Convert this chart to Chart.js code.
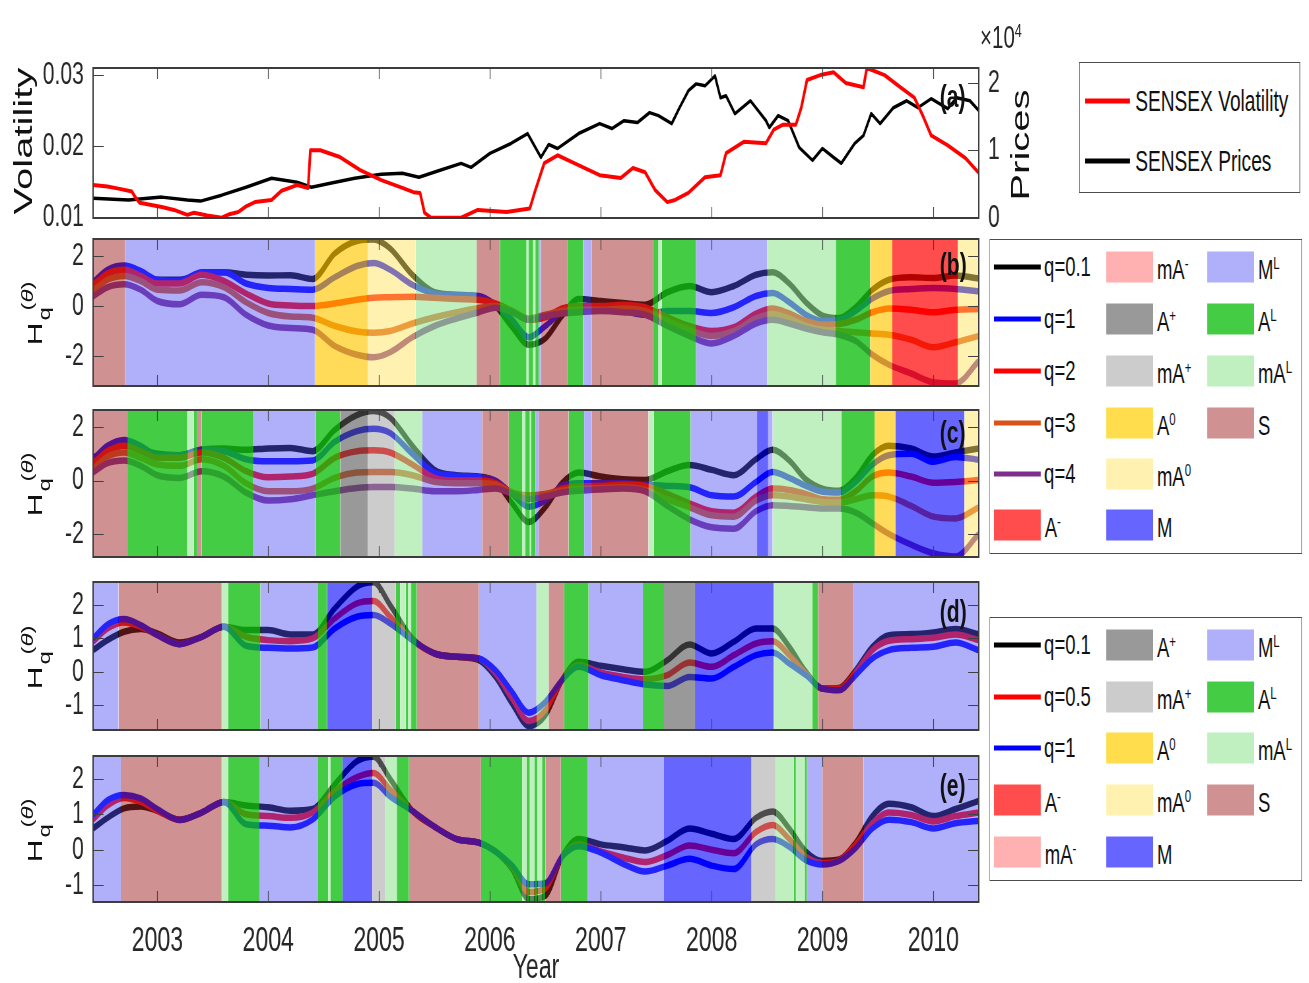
<!DOCTYPE html>
<html>
<head>
<meta charset="utf-8">
<title>SENSEX volatility and generalized Hurst exponents</title>
<script src="https://cdn.jsdelivr.net/npm/chart.js@4.4.1/dist/chart.umd.min.js"></script>
<style>
html,body{margin:0;padding:0;background:#ffffff;width:1309px;height:983px;overflow:hidden;}
#stage{position:absolute;left:0;top:0;width:1984px;height:983px;transform:scaleX(0.66);transform-origin:0 0;font-family:'Liberation Sans',Arial,Helvetica,sans-serif;color:#262626;}
#stage canvas{position:absolute;left:0;}
.t{position:absolute;white-space:nowrap;line-height:1;}
.rot{transform:translate(-50%,-50%) rotate(-90deg);}
.lg{position:absolute;border:1.5px solid #4d4d4d;background:#fff;box-sizing:border-box;}
.ls{position:absolute;height:5px;transform:translateY(-50%);}
.sw{position:absolute;height:31px;transform:translateY(-50%);}
.lt{position:absolute;white-space:nowrap;line-height:1;transform:translateY(-50%);font-size:28px;color:#111;}
.lt sup,.t sup{font-size:0.62em;vertical-align:0.55em;line-height:0;}
.pl{position:absolute;font-weight:bold;font-size:32px;line-height:1;transform:translateY(-50%);color:#111;}
.hl{font-size:32px;color:#111;}
.hl .ss{display:inline-block;position:relative;width:44px;height:32px;}
.hl .ss span{position:absolute;font-size:24px;line-height:1;white-space:nowrap;}
.hl .ss .sp{left:12px;top:-1px;}
.hl .ss .sb{left:2px;top:25px;}
</style>
</head>
<body>
<div id="stage">
</div>
<script>
// ---------------- data ----------------
const xTickYears = [2003, 2004, 2005, 2006, 2007, 2008, 2009, 2010];
const xMin = 2002.42, xMax = 2010.41;

const volTicks = [0.01, 0.02, 0.03];
const priceTicks = [0, 10000, 20000];
const hTicksBC = [-2, 0, 2];
const hTicksDE = [-1, 0, 1, 2];

const volYears = [2002.42,2002.55,2002.65,2002.77,2002.80,2002.84,2003.04,2003.15,2003.27,2003.33,2003.45,2003.58,2003.65,2003.73,2003.80,2003.88,2004.03,2004.12,2004.26,2004.36,2004.38,2004.47,2004.64,2004.83,2005.02,2005.21,2005.31,2005.37,2005.41,2005.47,2005.74,2005.89,2006.15,2006.36,2006.41,2006.49,2006.61,2006.76,2006.99,2007.18,2007.29,2007.40,2007.49,2007.60,2007.67,2007.79,2007.94,2008.08,2008.13,2008.29,2008.49,2008.56,2008.64,2008.76,2008.81,2008.86,2008.98,2009.10,2009.21,2009.37,2009.40,2009.56,2009.71,2009.83,2009.91,2009.98,2010.13,2010.29,2010.41];
const volValues = [0.0145,0.0143,0.0140,0.0136,0.0128,0.0120,0.0114,0.0110,0.0103,0.0106,0.0102,0.0099,0.0104,0.0107,0.0115,0.0121,0.0124,0.0137,0.0145,0.0141,0.0194,0.0194,0.0185,0.0166,0.0152,0.0141,0.0135,0.0134,0.0106,0.0099,0.0099,0.0110,0.0107,0.0112,0.0138,0.0176,0.0187,0.0176,0.0159,0.0155,0.0169,0.0163,0.0138,0.0121,0.0124,0.0134,0.0156,0.0159,0.0190,0.0206,0.0204,0.0223,0.0230,0.0230,0.0255,0.0293,0.0300,0.0304,0.0289,0.0283,0.0310,0.0300,0.0282,0.0268,0.0241,0.0215,0.0201,0.0183,0.0162];

const priceYears = [2002.42,2002.74,2003.04,2003.27,2003.39,2003.58,2003.80,2004.03,2004.26,2004.39,2004.56,2004.78,2005.02,2005.21,2005.36,2005.55,2005.74,2005.83,2006.00,2006.19,2006.34,2006.46,2006.53,2006.61,2006.80,2006.99,2007.10,2007.21,2007.33,2007.44,2007.52,2007.64,2007.71,2007.79,2007.86,2007.94,2008.03,2008.08,2008.13,2008.21,2008.35,2008.49,2008.52,2008.60,2008.69,2008.79,2008.91,2009.00,2009.10,2009.17,2009.29,2009.37,2009.44,2009.52,2009.64,2009.76,2009.86,2009.98,2010.13,2010.21,2010.33,2010.41];
const priceValues = [2940,2650,3090,2650,2500,3380,4560,5880,5290,4560,5150,5880,6470,6620,6030,7060,8090,7500,9560,11030,12500,8970,10880,10290,12500,13970,13240,14410,14120,15590,15150,13970,16320,18820,19850,19560,21030,17790,18090,15440,17350,14410,13380,15150,14410,10440,8530,10290,8970,8090,11030,12210,15440,13970,16320,17350,16320,17650,16180,17790,17350,15880];

const hYears = [2002.42,2002.55,2002.70,2002.85,2003.0,2003.2,2003.4,2003.6,2003.8,2004.0,2004.2,2004.4,2004.6,2004.8,2004.95,2005.1,2005.3,2005.5,2005.7,2005.9,2006.05,2006.2,2006.35,2006.5,2006.65,2006.8,2007.0,2007.2,2007.4,2007.6,2007.8,2008.0,2008.2,2008.4,2008.55,2008.7,2008.85,2009.0,2009.15,2009.3,2009.45,2009.6,2009.8,2010.0,2010.2,2010.41];

// panel (b)
const bQ01 = [0.95,1.2,1.28,1.18,1.05,1.05,1.3,1.35,1.25,1.22,1.23,1.08,2.1,2.6,2.66,2.3,1.25,0.55,0.45,0.38,0.0,-0.85,-1.55,-1.3,-0.4,0.28,0.2,0.12,0.05,0.55,0.8,0.55,0.8,1.25,1.35,0.9,0.15,-0.38,-0.48,-0.05,0.65,1.05,1.15,1.12,1.22,1.1];
const bQ1 = [0.95,1.45,1.62,1.4,1.05,1.0,1.35,1.35,0.9,0.72,0.68,0.65,1.15,1.6,1.72,1.45,0.85,0.5,0.43,0.4,0.05,-0.55,-1.25,-0.8,-0.25,-0.1,-0.15,-0.2,-0.35,-0.2,-0.2,-0.28,-0.05,0.4,0.52,0.15,-0.35,-0.6,-0.55,-0.2,0.3,0.6,0.68,0.72,0.68,0.58];
const bQ2 = [0.85,1.3,1.45,1.2,0.9,0.9,1.25,1.0,0.5,0.1,0.02,0.0,0.1,0.25,0.33,0.35,0.37,0.33,0.28,0.25,0.1,-0.2,-0.55,-0.45,-0.1,0.0,0.0,0.05,-0.05,-0.45,-0.8,-1.0,-0.85,-0.3,-0.1,-0.3,-0.6,-0.75,-0.72,-0.55,-0.25,-0.1,-0.15,-0.25,-0.15,-0.12];
const bQ3 = [0.62,1.05,1.2,1.0,0.65,0.62,0.95,0.75,0.15,-0.28,-0.42,-0.47,-0.8,-1.02,-1.07,-1.0,-0.7,-0.45,-0.25,-0.08,0.0,-0.2,-0.5,-0.35,-0.2,-0.15,-0.15,-0.1,-0.2,-0.6,-0.95,-1.2,-1.0,-0.5,-0.32,-0.5,-0.8,-0.95,-1.0,-1.05,-1.1,-1.15,-1.35,-1.65,-1.45,-1.2];
const bQ4 = [0.38,0.75,0.87,0.65,0.2,0.07,0.45,0.35,-0.35,-0.78,-0.88,-0.95,-1.6,-1.95,-2.05,-1.85,-1.25,-0.8,-0.5,-0.25,-0.07,-0.25,-0.55,-0.4,-0.3,-0.25,-0.2,-0.25,-0.35,-0.8,-1.2,-1.5,-1.2,-0.7,-0.55,-0.7,-0.9,-1.05,-1.15,-1.4,-1.95,-2.35,-2.7,-3.05,-3.1,-2.2];

// panel (c)
const cQ01 = [0.85,1.15,1.3,1.15,1.0,0.95,1.15,1.2,1.15,1.2,1.22,1.1,1.9,2.45,2.6,2.35,1.3,0.4,0.2,0.15,-0.05,-0.85,-1.55,-1.0,-0.1,0.3,0.15,0.05,0.02,0.35,0.58,0.4,0.2,0.8,1.15,0.75,0.05,-0.3,-0.38,0.1,0.95,1.3,1.2,0.9,1.05,1.2];
const cQ1 = [0.8,1.3,1.52,1.3,0.95,0.95,1.15,1.1,0.8,0.72,0.72,0.75,1.45,1.85,1.94,1.78,1.0,0.3,0.18,0.12,0.0,-0.5,-0.98,-0.75,-0.2,-0.1,-0.1,-0.1,-0.15,-0.2,-0.25,-0.55,-0.6,-0.05,0.32,0.1,-0.2,-0.42,-0.45,-0.05,0.6,0.95,1.0,0.7,0.88,0.78];
const cQ2 = [0.65,1.1,1.3,1.1,0.85,0.85,1.05,0.85,0.35,0.12,0.15,0.25,0.85,1.1,1.13,1.05,0.6,0.1,0.0,0.0,-0.1,-0.45,-0.65,-0.55,-0.3,-0.22,-0.2,-0.15,-0.2,-0.5,-0.85,-1.15,-1.2,-0.6,-0.3,-0.35,-0.5,-0.7,-0.72,-0.4,0.15,0.3,0.15,-0.08,-0.05,0.02];
const cQ3 = [0.45,0.9,1.05,0.85,0.6,0.55,0.8,0.55,-0.1,-0.4,-0.4,-0.3,0.1,0.3,0.32,0.32,0.2,-0.05,-0.1,-0.1,-0.15,-0.45,-0.55,-0.5,-0.38,-0.32,-0.28,-0.25,-0.35,-0.7,-1.0,-1.3,-1.35,-0.75,-0.55,-0.6,-0.7,-0.8,-0.82,-0.7,-0.55,-0.6,-0.95,-1.35,-1.42,-1.0];
const cQ4 = [0.3,0.65,0.75,0.55,0.2,0.1,0.35,0.15,-0.45,-0.75,-0.7,-0.55,-0.4,-0.28,-0.24,-0.24,-0.3,-0.4,-0.4,-0.35,-0.3,-0.5,-0.7,-0.6,-0.45,-0.38,-0.33,-0.3,-0.4,-0.95,-1.45,-1.75,-1.8,-1.15,-0.92,-0.95,-1.0,-1.05,-1.05,-1.2,-1.6,-2.0,-2.4,-2.72,-2.84,-2.0];

// panel (d)
const dQ01 = [0.65,0.95,1.2,1.28,1.15,0.88,1.05,1.35,1.25,1.25,1.12,1.12,1.9,2.55,2.68,2.0,1.0,0.55,0.45,0.35,-0.15,-0.95,-1.62,-1.3,-0.25,0.3,0.18,0.08,0.0,0.35,0.82,0.55,0.9,1.3,1.3,0.75,0.0,-0.5,-0.48,0.05,0.75,1.1,1.13,1.18,1.28,1.12];
const dQ05 = [0.9,1.3,1.48,1.35,1.1,0.83,1.05,1.35,1.05,0.95,0.92,1.0,1.6,2.05,2.12,1.65,0.95,0.55,0.45,0.4,-0.05,-0.8,-1.47,-1.15,-0.25,0.2,-0.02,-0.15,-0.22,-0.1,0.28,0.15,0.5,0.85,0.92,0.5,-0.05,-0.5,-0.5,0.0,0.65,0.93,0.98,1.02,1.12,0.95];
const dQ1 = [1.0,1.42,1.58,1.4,1.1,0.83,1.05,1.35,0.78,0.72,0.7,0.73,1.3,1.65,1.7,1.45,0.95,0.55,0.45,0.4,0.05,-0.6,-1.22,-0.9,-0.25,0.15,-0.1,-0.25,-0.38,-0.42,-0.15,-0.2,0.15,0.5,0.58,0.25,-0.1,-0.5,-0.55,-0.1,0.4,0.65,0.72,0.75,0.88,0.65];

// panel (e)
const eQ01 = [0.6,0.9,1.17,1.22,1.1,0.85,1.05,1.35,1.25,1.2,1.1,1.15,1.85,2.5,2.63,2.0,1.1,0.65,0.3,0.2,-0.05,-0.55,-1.4,-1.3,-0.2,0.3,0.15,0.07,-0.02,0.25,0.6,0.45,0.3,0.9,1.08,0.6,-0.05,-0.32,-0.28,0.2,0.95,1.3,1.2,0.95,1.15,1.38];
const eQ05 = [0.85,1.25,1.46,1.35,1.1,0.84,1.05,1.35,1.0,0.95,0.9,1.05,1.65,2.05,2.17,1.7,1.1,0.65,0.3,0.2,-0.05,-0.5,-1.2,-1.1,-0.2,0.15,-0.05,-0.22,-0.35,-0.15,0.12,0.0,-0.1,0.5,0.7,0.3,-0.2,-0.38,-0.3,0.15,0.75,1.05,0.98,0.8,0.95,1.05];
const eQ1 = [0.98,1.4,1.55,1.45,1.15,0.84,1.05,1.35,0.72,0.68,0.63,0.85,1.5,1.85,1.89,1.5,1.1,0.65,0.3,0.2,-0.05,-0.45,-0.98,-0.95,-0.2,0.1,-0.08,-0.4,-0.62,-0.45,-0.26,-0.45,-0.55,0.15,0.3,0.08,-0.3,-0.42,-0.32,0.05,0.6,0.85,0.78,0.6,0.75,0.82];

// regime bands: edges (years) and regime of each interval
const bEdges = [2002.42,2002.71,2004.42,2004.90,2005.33,2005.88,2006.09,2006.33,2006.35,2006.39,2006.41,2006.44,2006.46,2006.70,2006.84,2006.92,2007.47,2007.52,2007.55,2007.86,2008.50,2009.12,2009.43,2009.63,2010.22,2010.41];
const bTypes = ['S','ML','A0','mA0','mAL','S','AL','mAL','AL','mAL','AL','ML','S','AL','ML','S','AL','mAL','AL','ML','mAL','AL','A0','A-','mA0'];
const cEdges = [2002.42,2002.73,2003.27,2003.33,2003.36,2003.40,2003.87,2004.43,2004.65,2004.90,2005.14,2005.39,2005.93,2006.17,2006.29,2006.32,2006.36,2006.37,2006.41,2006.44,2006.71,2006.85,2006.92,2007.43,2007.48,2007.81,2008.41,2008.51,2008.55,2009.17,2009.47,2009.66,2010.28,2010.41];
const cTypes = ['S','AL','mAL','AL','S','AL','ML','AL','A+','mA+','mAL','ML','S','AL','mAL','AL','mAL','AL','ML','S','AL','ML','S','mAL','AL','ML','M','ML','mAL','AL','A0','M','mA0'];
const dEdges = [2002.42,2002.65,2003.58,2003.64,2003.93,2004.45,2004.53,2004.94,2005.15,2005.19,2005.24,2005.26,2005.29,2005.34,2005.90,2006.42,2006.53,2006.67,2006.89,2007.38,2007.57,2007.85,2008.56,2008.91,2008.96,2009.28,2010.41];
const dTypes = ['ML','S','mAL','AL','ML','AL','M','mA+','AL','mAL','AL','mAL','AL','S','ML','mAL','S','AL','ML','AL','A+','M','mAL','AL','S','ML'];
const eEdges = [2002.42,2002.67,2003.58,2003.64,2003.92,2004.45,2004.54,2004.56,2004.67,2004.94,2005.06,2005.16,2005.27,2005.92,2006.29,2006.33,2006.36,2006.40,2006.43,2006.47,2006.50,2006.64,2006.88,2007.57,2008.36,2008.58,2008.74,2008.76,2008.84,2008.86,2009.00,2009.37,2010.41];
const eTypes = ['ML','S','mAL','AL','ML','AL','mAL','AL','M','mA+','mAL','AL','S','AL','mAL','AL','mAL','AL','mAL','AL','S','AL','ML','M','mA+','mAL','AL','mAL','AL','ML','S','ML'];

// ---------------- styles ----------------
const FONT = "'Liberation Sans', Arial, Helvetica, sans-serif";
const INK = '#262626';
const LEFT = 141, RIGHT = 1483, M = 36;
const regionFill = {
  'S':'rgba(159,35,35,0.5)', 'ML':'rgba(80,80,244,0.45)', 'AL':'rgba(21,191,21,0.8)',
  'mAL':'rgba(150,230,150,0.6)', 'A0':'rgba(255,200,0,0.65)', 'mA0':'rgba(255,229,97,0.5)',
  'A+':'rgba(85,85,85,0.6)', 'mA+':'rgba(153,153,153,0.5)', 'A-':'rgba(255,0,0,0.7)',
  'mA-':'rgba(255,97,97,0.5)', 'M':'rgba(0,0,255,0.6)'
};
const regionSwatch = {
  'S':'#cf9191', 'ML':'#b0b0fa', 'AL':'#44cc44', 'mAL':'#c0f0c0', 'A0':'#ffdd4d',
  'mA0':'#fff2b0', 'A+':'#999999', 'mA+':'#cccccc', 'A-':'#ff4d4d', 'mA-':'#ffb0b0', 'M':'#6666ff'
};
const regionLabel = {
  'S':'S', 'ML':'M<sup>L</sup>', 'AL':'A<sup>L</sup>', 'mAL':'mA<sup>L</sup>', 'A0':'A<sup>0</sup>',
  'mA0':'mA<sup>0</sup>', 'A+':'A<sup>+</sup>', 'mA+':'mA<sup>+</sup>', 'A-':'A<sup>-</sup>',
  'mA-':'mA<sup>-</sup>', 'M':'M'
};
const qColor = {q01:'#000000', q05:'#ff0000', q1:'#0000ff', q2:'#ff0000', q3:'#d95319', q4:'#7e2f8e'};

const stage = document.getElementById('stage');
function makeCanvas(top, width, height) {
  const c = document.createElement('canvas');
  c.width = width; c.height = height;
  c.style.top = top + 'px';
  c.style.width = width + 'px'; c.style.height = height + 'px';
  stage.appendChild(c);
  return c;
}

const framePlugin = {
  id: 'frame',
  afterDatasetsDraw(chart) {
    const {ctx, chartArea: a, scales} = chart;
    ctx.save();
    ctx.strokeStyle = '#404040';
    ctx.lineWidth = 1.2;
    ctx.beginPath();
    for (const v of xTickYears) {
      const px = Math.round(scales.x.getPixelForValue(v)) + 0.5;
      ctx.moveTo(px, a.bottom); ctx.lineTo(px, a.bottom - 11);
      ctx.moveTo(px, a.top); ctx.lineTo(px, a.top + 11);
    }
    const yl = scales.y, yr = scales.y1 || scales.y;
    for (const t of yl.ticks) {
      const py = Math.round(yl.getPixelForValue(t.value)) + 0.5;
      ctx.moveTo(a.left, py); ctx.lineTo(a.left + 16, py);
    }
    for (const t of yr.ticks) {
      const py = Math.round(yr.getPixelForValue(t.value)) + 0.5;
      ctx.moveTo(a.right, py); ctx.lineTo(a.right - 16, py);
    }
    ctx.stroke();
    ctx.lineWidth = 2;
    ctx.strokeStyle = '#3c3c3c';
    ctx.strokeRect(a.left, a.top, a.right - a.left, a.bottom - a.top);
    ctx.restore();
  }
};

function yScale(min, max, ticks, width, position, cb) {
  return {
    position: position, min: min, max: max,
    grid: {display: false, drawTicks: false}, border: {display: false},
    afterBuildTicks: sc => { sc.ticks = ticks.map(v => ({value: v})); },
    ticks: {padding: 14, color: INK, font: {family: FONT, size: 32}, callback: cb || (v => String(v))},
    afterFit: sc => { sc.width = width; }
  };
}
function xScale(show) {
  return {
    type: 'linear', min: xMin, max: xMax, display: show,
    grid: {display: false, drawTicks: false}, border: {display: false},
    afterBuildTicks: sc => { sc.ticks = xTickYears.map(v => ({value: v})); },
    ticks: {display: show, padding: 18, color: INK, font: {family: FONT, size: 35}, callback: v => String(v), autoSkip: false, maxRotation: 0},
    title: {display: show, text: 'Year', color: INK, font: {family: FONT, size: 35, lineHeight: 1}, padding: 0},
    afterFit: sc => { if (show) sc.height = 84; }
  };
}
const baseOpts = {responsive: false, animation: false, devicePixelRatio: 1, events: [],
  plugins: {legend: {display: false}, tooltip: {enabled: false}}};

// ---------------- panel (a) ----------------
(function () {
  const cv = makeCanvas(68 - M, RIGHT + 70, 150 + 2 * M);
  new Chart(cv, {
    type: 'line',
    data: {datasets: [
      {data: priceYears.map((x, i) => ({x, y: priceValues[i]})), yAxisID: 'y1', borderColor: '#000000', borderWidth: 3.5, pointRadius: 0, tension: 0, borderJoinStyle: 'round', order: 1},
      {data: volYears.map((x, i) => ({x, y: volValues[i]})), yAxisID: 'y', borderColor: '#ff0000', borderWidth: 4, pointRadius: 0, tension: 0, borderJoinStyle: 'round', order: 0}
    ]},
    options: Object.assign({}, baseOpts, {
      layout: {padding: {top: M, bottom: M, left: 0, right: 0}},
      scales: {
        x: xScale(false),
        y: yScale(0.00986, 0.0310, volTicks, LEFT, 'left'),
        y1: yScale(0, 22200, priceTicks, 70, 'right', v => String(v / 10000))
      }
    }),
    plugins: [framePlugin]
  });
})();

// ---------------- panels (b)-(e) ----------------
function hPanel(top, height, edges, types, series, yMin, yMax, yTicks, withX) {
  const bottomSpace = withX ? 84 : M;
  const cv = makeCanvas(top - M, RIGHT + 20, height + M + bottomSpace);
  const datasets = [];
  for (let i = 0; i < types.length; i++) {
    datasets.push({data: [{x: edges[i], y: yMax}, {x: edges[i + 1], y: yMax}], fill: 'start',
      backgroundColor: regionFill[types[i]], borderColor: 'rgba(0,0,0,0)', borderWidth: 0, pointRadius: 0, order: 0});
  }
  series.forEach((s, k) => {
    datasets.push({data: hYears.map((x, j) => ({x, y: s.values[j]})), borderColor: s.color, borderWidth: 6.5,
      pointRadius: 0, fill: false, cubicInterpolationMode: 'monotone', order: 10 - k});
  });
  new Chart(cv, {
    type: 'line',
    data: {datasets},
    options: Object.assign({}, baseOpts, {
      layout: {padding: {top: M, right: 20, bottom: withX ? 0 : M, left: 0}},
      scales: {x: xScale(withX), y: yScale(yMin, yMax, yTicks, LEFT, 'left')}
    }),
    plugins: [framePlugin]
  });
}
hPanel(239, 147, bEdges, bTypes, [
  {values: bQ01, color: qColor.q01}, {values: bQ1, color: qColor.q1}, {values: bQ2, color: qColor.q2},
  {values: bQ3, color: qColor.q3}, {values: bQ4, color: qColor.q4}], -3.2, 2.68, hTicksBC, false);
hPanel(410, 147, cEdges, cTypes, [
  {values: cQ01, color: qColor.q01}, {values: cQ1, color: qColor.q1}, {values: cQ2, color: qColor.q2},
  {values: cQ3, color: qColor.q3}, {values: cQ4, color: qColor.q4}], -2.86, 2.64, hTicksBC, false);
hPanel(582, 148, dEdges, dTypes, [
  {values: dQ01, color: qColor.q01}, {values: dQ05, color: qColor.q05}, {values: dQ1, color: qColor.q1}],
  -1.74, 2.69, hTicksDE, false);
hPanel(756, 146, eEdges, eTypes, [
  {values: eQ01, color: qColor.q01}, {values: eQ05, color: qColor.q05}, {values: eQ1, color: qColor.q1}],
  -1.48, 2.65, hTicksDE, true);

// ---------------- text & legends ----------------
function addHTML(html) { stage.insertAdjacentHTML('beforeend', html); }
addHTML('<div class="t rot" style="left:34px;top:141px;font-size:40px;color:#111">Volatility</div>');
addHTML('<div class="t rot" style="left:1545px;top:145px;font-size:40px;color:#111">Prices</div>');
addHTML('<div class="t" style="left:1485px;top:22px;font-size:31px;">×10<sup>4</sup></div>');
const hLabelTops = [312, 483, 656, 829];
hLabelTops.forEach(t => addHTML('<div class="t rot hl" style="left:50px;top:' + t + 'px">H<span class="ss"><span class="sp">(<i>θ</i>)</span><span class="sb">q</span></span></div>'));
const panelTags = [['(a)', 96], ['(b)', 264], ['(c)', 432], ['(d)', 611], ['(e)', 785]];
panelTags.forEach(p => addHTML('<div class="pl" style="left:1424px;top:' + p[1] + 'px">' + p[0] + '</div>'));

// legend for (a)
addHTML('<div class="lg" style="left:1635px;top:62px;width:335px;height:131px"></div>');
addHTML('<div class="ls" style="left:1644px;top:101px;width:68px;background:#ff0000"></div>');
addHTML('<div class="lt" style="left:1720px;top:101px;font-size:29px">SENSEX Volatility</div>');
addHTML('<div class="ls" style="left:1644px;top:161px;width:68px;background:#000000"></div>');
addHTML('<div class="lt" style="left:1720px;top:161px;font-size:29px">SENSEX Prices</div>');

const legendBC = [
  [['line', 'q01', 'q=0.1'], ['line', 'q1', 'q=1'], ['line', 'q2', 'q=2'], ['line', 'q3', 'q=3'], ['line', 'q4', 'q=4'], ['box', 'A-']],
  [['box', 'mA-'], ['box', 'A+'], ['box', 'mA+'], ['box', 'A0'], ['box', 'mA0'], ['box', 'M']],
  [['box', 'ML'], ['box', 'AL'], ['box', 'mAL'], ['box', 'S']]
];
const legendDE = [
  [['line', 'q01', 'q=0.1'], ['line', 'q05', 'q=0.5'], ['line', 'q1', 'q=1'], ['box', 'A-'], ['box', 'mA-']],
  [['box', 'A+'], ['box', 'mA+'], ['box', 'A0'], ['box', 'mA0'], ['box', 'M']],
  [['box', 'ML'], ['box', 'AL'], ['box', 'mAL'], ['box', 'S']]
];
const colX = [1506, 1676, 1829];
function drawLegend(top, height, rows, cols) {
  addHTML('<div class="lg" style="left:1499px;top:' + top + 'px;width:474px;height:' + height + 'px"></div>');
  cols.forEach((col, ci) => {
    col.forEach((e, ri) => {
      const y = rows[ri], x = colX[ci];
      if (e[0] === 'line') {
        addHTML('<div class="ls" style="left:' + x + 'px;top:' + y + 'px;width:71px;background:' + qColor[e[1]] + '"></div>');
        addHTML('<div class="lt" style="left:' + (x + 76) + 'px;top:' + y + 'px">' + e[2] + '</div>');
      } else {
        addHTML('<div class="sw" style="left:' + x + 'px;top:' + y + 'px;width:71px;background:' + regionSwatch[e[1]] + '"></div>');
        addHTML('<div class="lt" style="left:' + (x + 77) + 'px;top:' + (y + 3) + 'px">' + regionLabel[e[1]] + '</div>');
      }
    });
  });
}
drawLegend(239, 315, [267, 319, 371, 423, 474, 525], legendBC);
drawLegend(617, 264, [645, 697, 748, 800, 852], legendDE);
</script>
</body>
</html>
